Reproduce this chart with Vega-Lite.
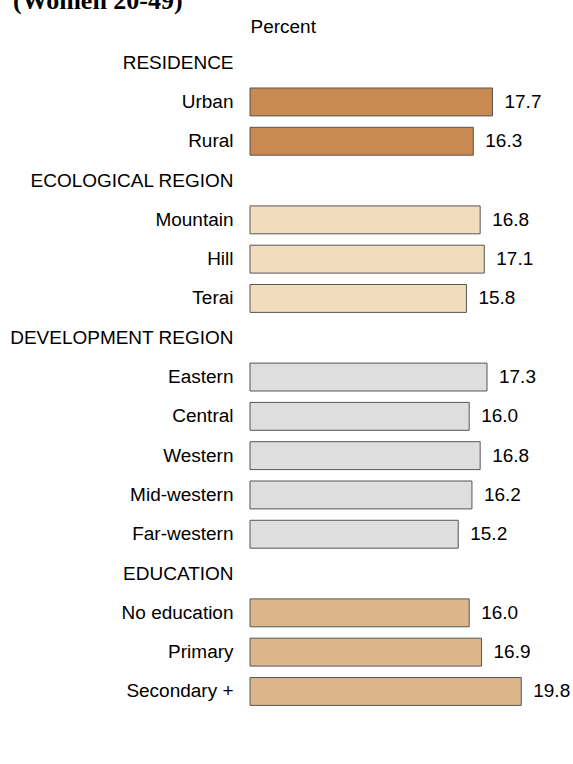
{
  "$schema": "https://vega.github.io/schema/vega-lite/v6.json",
  "autosize": {"type": "none"},
  "width": 274,
  "height": {"step": 39.3},
  "padding": {"left": 250, "top": 43, "right": 49, "bottom": 53},
  "background": "white",
  "title": {
    "text": "(Women 20-49)",
    "anchor": "start",
    "frame": "group",
    "dx": -237,
    "dy": 0,
    "font": "Liberation Serif",
    "fontWeight": "bold",
    "fontSize": 26,
    "color": "black"
  },
  "config": {
    "view": {"stroke": null},
    "font": "Liberation Sans",
    "mark": {"invalid": "break-paths-show-domains"}
  },
  "data": {
    "values": [
      {"label": "RESIDENCE", "value": null, "group": "res"},
      {"label": "Urban", "value": 17.7, "group": "res"},
      {"label": "Rural", "value": 16.3, "group": "res"},
      {"label": "ECOLOGICAL REGION", "value": null, "group": "eco"},
      {"label": "Mountain", "value": 16.8, "group": "eco"},
      {"label": "Hill", "value": 17.1, "group": "eco"},
      {"label": "Terai", "value": 15.8, "group": "eco"},
      {"label": "DEVELOPMENT REGION", "value": null, "group": "dev"},
      {"label": "Eastern", "value": 17.3, "group": "dev"},
      {"label": "Central", "value": 16.0, "group": "dev"},
      {"label": "Western", "value": 16.8, "group": "dev"},
      {"label": "Mid-western", "value": 16.2, "group": "dev"},
      {"label": "Far-western", "value": 15.2, "group": "dev"},
      {"label": "EDUCATION", "value": null, "group": "edu"},
      {"label": "No education", "value": 16.0, "group": "edu"},
      {"label": "Primary", "value": 16.9, "group": "edu"},
      {"label": "Secondary +", "value": 19.8, "group": "edu"}
    ]
  },
  "encoding": {
    "y": {
      "field": "label",
      "type": "nominal",
      "sort": null,
      "scale": {
        "domain": ["RESIDENCE", "Urban", "Rural", "ECOLOGICAL REGION", "Mountain", "Hill", "Terai", "DEVELOPMENT REGION", "Eastern", "Central", "Western", "Mid-western", "Far-western", "EDUCATION", "No education", "Primary", "Secondary +"],
        "paddingInner": 0.29,
        "paddingOuter": 0.145
      },
      "axis": {
        "title": null,
        "ticks": false,
        "domain": false,
        "grid": false,
        "labelPadding": 17,
        "labelFont": "Liberation Sans",
        "labelFontSize": 19,
        "labelColor": "black",
        "labelLimit": 0
      }
    },
    "x": {
      "field": "value",
      "type": "quantitative",
      "scale": {"domain": [0, 20], "nice": false, "zero": true},
      "axis": {
        "orient": "top",
        "title": "Percent",
        "titleAnchor": "start",
        "titleAlign": "left",
        "titleFont": "Liberation Sans",
        "titleFontSize": 19,
        "titleFontWeight": "normal",
        "titleColor": "black",
        "titlePadding": 6,
        "labels": false,
        "ticks": false,
        "domain": false,
        "grid": false
      }
    }
  },
  "layer": [
    {
      "mark": {"type": "bar", "stroke": "#555555", "strokeWidth": 1},
      "encoding": {
        "color": {
          "field": "group",
          "type": "nominal",
          "scale": {
            "domain": ["res", "eco", "dev", "edu"],
            "range": ["#C98A52", "#F1DCBC", "#DEDEDE", "#DDB58B"]
          },
          "legend": null
        }
      }
    },
    {
      "mark": {
        "type": "text",
        "align": "left",
        "baseline": "middle",
        "dx": 12,
        "fontSize": 19,
        "font": "Liberation Sans",
        "color": "black"
      },
      "encoding": {
        "text": {"field": "value", "type": "quantitative", "format": ".1f"}
      }
    }
  ]
}
